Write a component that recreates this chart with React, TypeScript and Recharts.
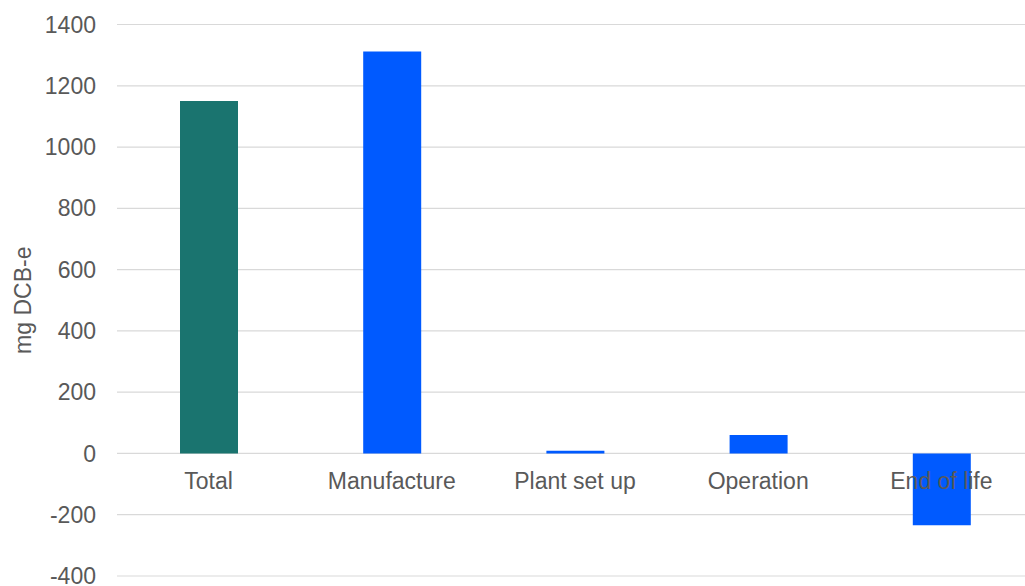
import React from 'react';
import { BarChart, Bar, XAxis, YAxis, CartesianGrid, Cell, Label } from 'recharts';

const categories = ['Total', 'Manufacture', 'Plant set up', 'Operation', 'End of life'];
const impactValues = [1150, 1312, 9, 60, -234];
const barColors = ['#1a746f', '#005aff', '#005aff', '#005aff', '#005aff'];
const yTicks = [-400, -200, 0, 200, 400, 600, 800, 1000, 1200, 1400];

const data = categories.map((name, i) => ({ name, value: impactValues[i] }));

const CHART_W = 1040;
const CHART_H = 586;
const MARGIN = { top: 24.5, right: 7, bottom: 0, left: 0 };
const X_AXIS_H = 10;
const Y_MIN = yTicks[0];
const Y_MAX = yTicks[yTicks.length - 1];
const FONT = '"Liberation Sans", Arial, sans-serif';
const TEXT_COLOR = '#595959';

const plotHeight = CHART_H - MARGIN.top - MARGIN.bottom - X_AXIS_H;
const zeroY = MARGIN.top + (plotHeight * Y_MAX) / (Y_MAX - Y_MIN);

// x labels sit under the zero line, not at the bottom of the plot
const CategoryTick = (props: any) => {
  const { x, payload } = props;
  return (
    <text
      x={x}
      y={zeroY + 36}
      textAnchor="middle"
      fill={TEXT_COLOR}
      fontSize={23}
      fontFamily={FONT}
    >
      {payload.value}
    </text>
  );
};

const YAxisTitle = (props: any) => {
  const { viewBox } = props;
  const cx = viewBox.x + 23;
  const cy = viewBox.y + viewBox.height / 2;
  return (
    <text
      x={cx}
      y={cy}
      transform={`rotate(-90, ${cx}, ${cy})`}
      textAnchor="middle"
      dominantBaseline="central"
      fill={TEXT_COLOR}
      fontSize={23}
      fontFamily={FONT}
    >
      mg DCB-e
    </text>
  );
};

export default function App() {
  return (
    <div
      style={{
        position: 'absolute',
        left: 0,
        top: 0,
        width: 1025,
        height: 586,
        overflow: 'hidden',
        background: '#ffffff',
      }}
    >
      <BarChart width={CHART_W} height={CHART_H} data={data} margin={MARGIN}>
        <CartesianGrid vertical={false} stroke="#d9d9d9" strokeWidth={1.2} />
        <XAxis
          dataKey="name"
          height={X_AXIS_H}
          axisLine={false}
          tickLine={false}
          tick={<CategoryTick />}
          interval={0}
        />
        <YAxis
          width={117}
          domain={[Y_MIN, Y_MAX]}
          ticks={yTicks}
          interval={0}
          axisLine={false}
          tickLine={false}
          tickSize={0}
          tickMargin={21}
          tick={{ fill: TEXT_COLOR, fontSize: 23, fontFamily: FONT }}
        >
          <Label content={<YAxisTitle />} />
        </YAxis>
        <Bar dataKey="value" barSize={58} isAnimationActive={false}>
          {data.map((d, i) => (
            <Cell key={d.name} fill={barColors[i]} />
          ))}
        </Bar>
      </BarChart>
    </div>
  );
}
